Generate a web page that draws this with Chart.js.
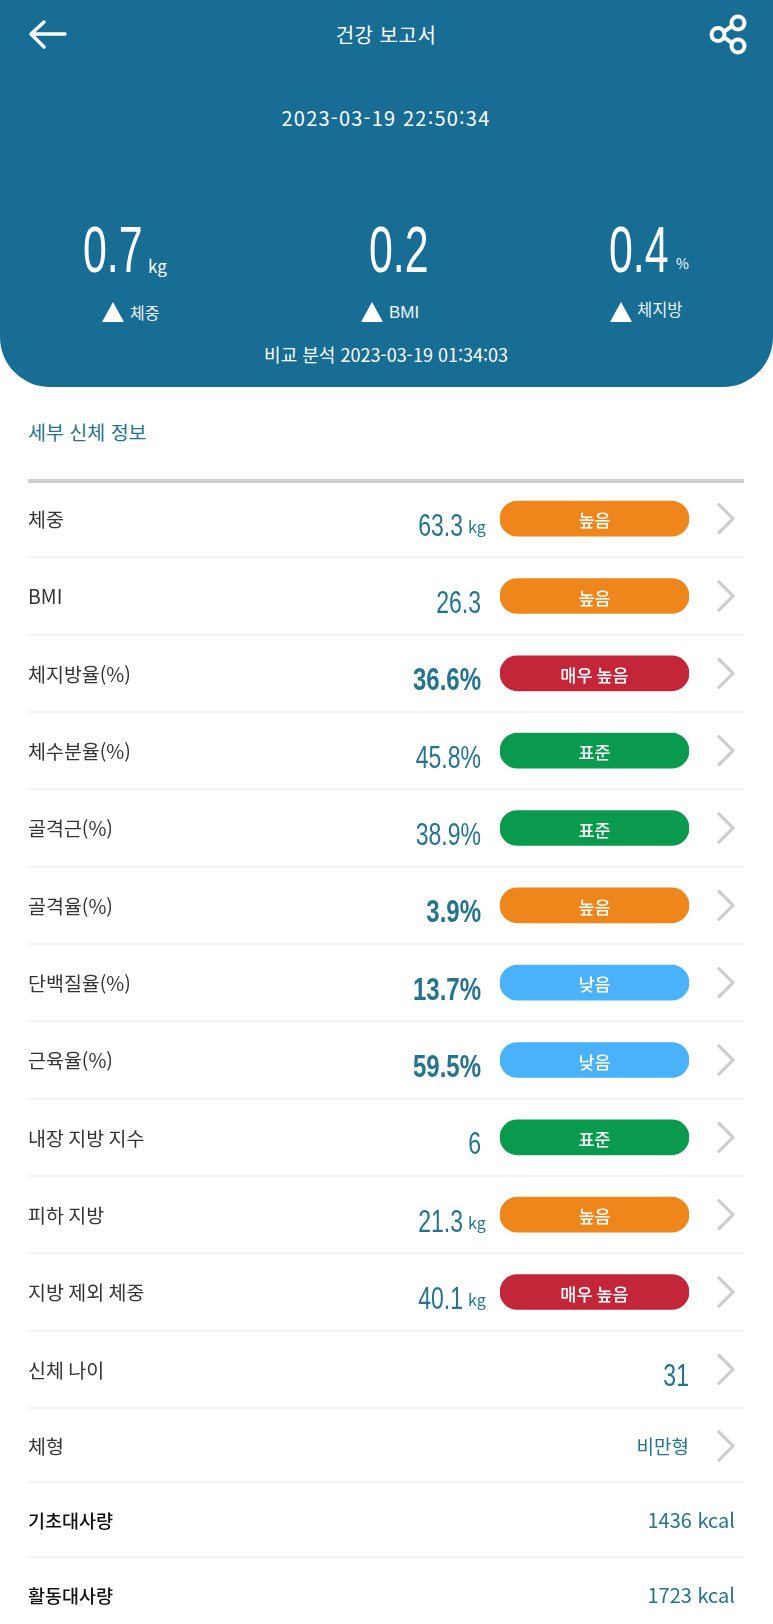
<!DOCTYPE html>
<html lang="ko">
<head>
<meta charset="utf-8">
<title>건강 보고서</title>
<script src="https://cdn.jsdelivr.net/npm/chart.js@4/dist/chart.umd.min.js"></script>
<style>
  html, body { margin: 0; background: #fff; }
  body { position: relative; width: 773px; height: 1624px; overflow: hidden;
         font-family: "Noto Sans CJK KR", "Noto Sans", sans-serif; color: #333; }
  canvas { position: absolute; left: 0; top: 0; }
  .head { position: absolute; left: 0; top: 0; width: 773px; height: 387px; background: #176d93;
          border-radius: 0 0 50px 50px; }
  .t { position: absolute; white-space: nowrap; line-height: 1; transform: translateY(-50%); }
  .c { transform: translate(-50%, -50%); }
  .w { color: #fff; }
  .big { font-family: "Liberation Sans Narrow", "Liberation Sans", sans-serif; font-size: 65px;
         color: #fff; transform: translateY(-50%) scaleX(.66); transform-origin: left center; }
  .tri { position: absolute; width: 0; height: 0; border-left: 11px solid transparent;
         border-right: 11px solid transparent; border-bottom: 20px solid #fff; top: 302px; }
  .rule { position: absolute; left: 28px; width: 716px; }
  .teal { color: #25738f; }
  svg { position: absolute; }
</style>
</head>
<body>
<div class="head"></div>
<svg style="left:0;top:0" width="773" height="60" fill="none" stroke="#fff" stroke-width="3.5" stroke-linecap="round" stroke-linejoin="round">
  <path d="M65 34H31M44 22L31 34L44 47"/>
  <path stroke-width="4" d="M725 31L732 26M725 38L732 43"/>
  <circle stroke-width="4" cx="738" cy="23" r="6.5"/><circle stroke-width="4" cx="718" cy="34.5" r="6.5"/><circle stroke-width="4" cx="738" cy="46" r="6.5"/>
</svg>
<div class="t c w" style="left:386px;top:35px;font-size:20px;letter-spacing:.5px">건강 보고서</div>
<div class="t c w" style="left:386px;top:118px;font-size:20px;letter-spacing:1.2px">2023-03-19 22:50:34</div>
<div class="t big" style="left:83px;top:249px">0.7</div>
<div class="t w" style="left:148px;top:265px;font-size:17px">kg</div>
<div class="t big" style="left:369px;top:249px">0.2</div>
<div class="t big" style="left:609px;top:249px">0.4</div>
<div class="t w" style="left:676px;top:263px;font-size:14px">%</div>
<div class="tri" style="left:102px"></div>
<div class="tri" style="left:361px"></div>
<div class="tri" style="left:610px"></div>
<div class="t w" style="left:130px;top:312px;font-size:16px;opacity:.92">체중</div>
<div class="t w" style="left:389px;top:312px;font-size:17px;opacity:.92;font-family:'Liberation Sans Narrow','Liberation Sans',sans-serif">BMI</div>
<div class="t w" style="left:637px;top:309px;font-size:16.5px;opacity:.92">체지방</div>
<div class="t c w" style="left:386px;top:354px;font-size:18px">비교 분석 2023-03-19 01:34:03</div>
<div class="t teal" style="left:28px;top:432px;font-size:19.5px">세부 신체 정보</div>
<div class="rule" style="top:479px;height:4px;background:#cfcfcf"></div>

<canvas id="report" width="773" height="1624"></canvas>

<div class="t" style="left:28px;top:1446px;font-size:19.5px">체형</div>
<div class="t teal" style="right:84px;top:1445px;font-size:19px">비만형</div>
<svg style="left:715px;top:1429px" width="22" height="34" fill="none" stroke="#cccccc" stroke-width="3"><path d="M3 2L18 17L3 32"/></svg>
<div class="rule" style="top:1481px;height:2px;background:#f3f3f3"></div>
<div class="t" style="left:28px;top:1520px;font-size:18.5px;color:#111;font-weight:500">기초대사량</div>
<div class="t teal" style="right:38px;top:1520px;font-size:20px">1436 kcal</div>
<div class="rule" style="top:1556px;height:2px;background:#f3f3f3"></div>
<div class="t" style="left:28px;top:1595px;font-size:18.5px;color:#111;font-weight:500">활동대사량</div>
<div class="t teal" style="right:38px;top:1595px;font-size:20px">1723 kcal</div>

<script>
const rowLabels = ['체중', 'BMI', '체지방율(%)', '체수분율(%)', '골격근(%)', '골격율(%)',
                   '단백질율(%)', '근육율(%)', '내장 지방 지수', '피하 지방', '지방 제외 체중', '신체 나이'];
const rowValues = ['63.3', '26.3', '36.6%', '45.8%', '38.9%', '3.9%', '13.7%', '59.5%', '6', '21.3', '40.1', '31'];
const rowUnits = ['kg', '', '', '', '', '', '', '', '', 'kg', 'kg', ''];
const rowStatus = ['높음', '높음', '매우 높음', '표준', '표준', '높음', '낮음', '낮음', '표준', '높음', '매우 높음', null];
const outOfRange = [false, false, true, false, false, true, true, true, false, false, false, false];

const STATUS_COLORS = { '높음': '#ee861b', '매우 높음': '#c32539', '표준': '#0a9a4d', '낮음': '#4ab1fb' };
const TEAL = '#25738f';
const KR_FONT = '"Noto Sans CJK KR", "Noto Sans", sans-serif';
const NUM_FONT = '"Liberation Sans Narrow", "Liberation Sans", sans-serif';

// value text, unit, pill caption, chevron and row separator for every row
const rowDecor = {
  id: 'rowDecor',
  afterDatasetsDraw(chart) {
    const { ctx, scales: { x, y } } = chart;
    const step = y.getPixelForValue(1) - y.getPixelForValue(0);
    rowLabels.forEach((label, i) => {
      const cy = y.getPixelForValue(i);

      ctx.save();
      ctx.fillStyle = '#f3f3f3';
      ctx.fillRect(28, Math.round(cy + step / 2) - 1, 716, 2);
      ctx.strokeStyle = '#cccccc';
      ctx.lineWidth = 3;
      ctx.beginPath();
      ctx.moveTo(718, cy - 15);
      ctx.lineTo(733, cy);
      ctx.lineTo(718, cy + 15);
      ctx.stroke();

      if (rowStatus[i]) {
        ctx.fillStyle = '#fff';
        ctx.font = '500 17.5px ' + KR_FONT;
        ctx.textAlign = 'center';
        ctx.textBaseline = 'middle';
        ctx.fillText(rowStatus[i], (x.getPixelForValue(0) + x.getPixelForValue(1)) / 2, cy + 2);
      }

      const right = !rowStatus[i] ? 689 : rowUnits[i] ? 463 : 481;
      ctx.fillStyle = TEAL;
      ctx.textBaseline = 'alphabetic';
      ctx.textAlign = 'right';
      ctx.translate(right, cy + 17);
      ctx.scale(outOfRange[i] ? 0.75 : 0.72, 1);
      ctx.font = (outOfRange[i] ? 'bold ' : '') + '32px ' + NUM_FONT;
      ctx.fillText(rowValues[i], 0, 0);
      ctx.restore();

      if (rowUnits[i]) {
        ctx.save();
        ctx.fillStyle = TEAL;
        ctx.font = '16px ' + KR_FONT;
        ctx.textAlign = 'left';
        ctx.textBaseline = 'alphabetic';
        ctx.fillText(rowUnits[i], 468, cy + 14);
        ctx.restore();
      }
    });
  },
};

new Chart(document.getElementById('report'), {
  type: 'bar',
  data: {
    labels: rowLabels,
    datasets: [{
      data: rowStatus.map(s => (s ? 1 : null)),
      backgroundColor: rowStatus.map(s => STATUS_COLORS[s] || 'transparent'),
      barThickness: 35,
      borderRadius: 18,
      borderSkipped: false,
    }],
  },
  options: {
    indexAxis: 'y',
    responsive: false,
    animation: false,
    layout: { padding: { left: 28, right: 84, top: 480, bottom: 216 } },
    plugins: { legend: { display: false }, title: { display: false }, tooltip: { enabled: false } },
    scales: {
      x: { display: false, min: 0, max: 1 },
      y: {
        afterFit: s => { s.width = 472; },
        grid: { display: false },
        border: { display: false },
        ticks: { crossAlign: 'far', color: '#333', padding: 0, labelOffset: 1, autoSkip: false, font: { family: KR_FONT, size: 19.5 } },
      },
    },
  },
  plugins: [rowDecor],
});
</script>
</body>
</html>
